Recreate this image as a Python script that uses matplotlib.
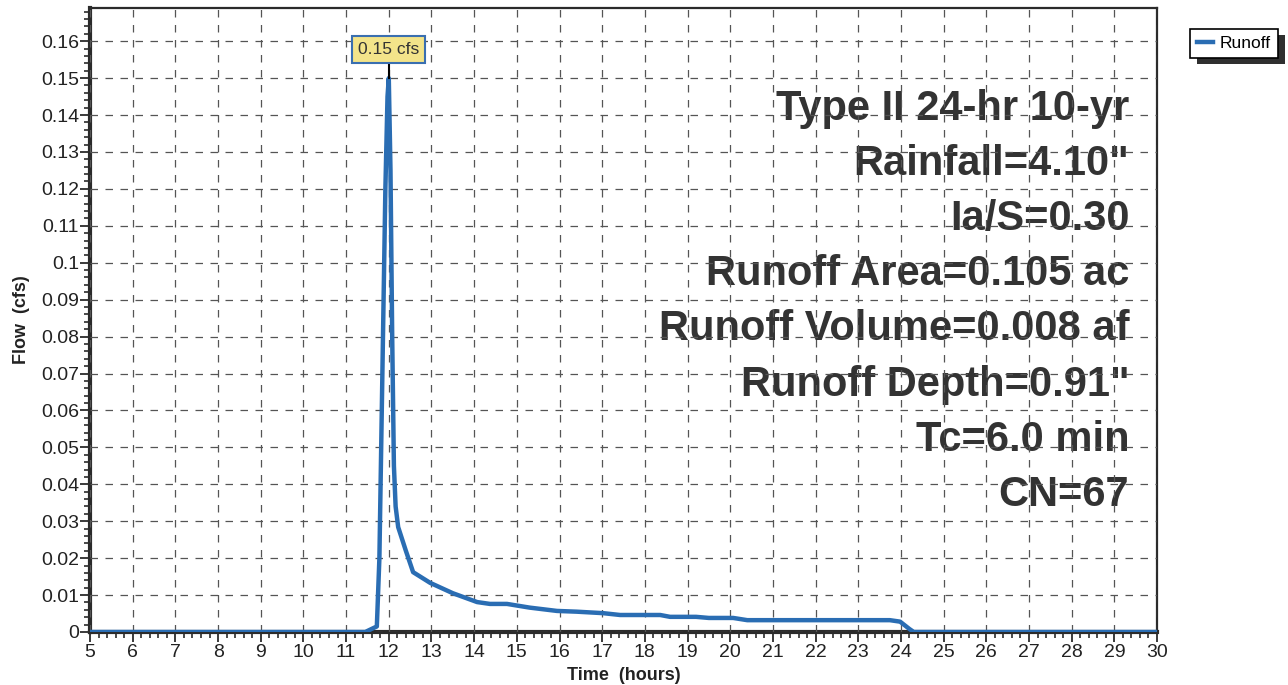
#!/usr/bin/env python3
"""Runoff hydrograph (Type II 24-hr 10-yr storm)."""

import matplotlib.pyplot as plt
from matplotlib.ticker import MultipleLocator
from matplotlib.patches import Rectangle

# Hydrograph ordinates: time (hours) and flow (cfs)
time_hr = [5.0, 11.0, 11.45, 11.72, 11.78, 11.85, 11.92, 11.97, 12.0,
           12.04, 12.08, 12.12, 12.16, 12.22, 12.4, 12.57, 12.97, 13.5,
           14.07, 14.37, 14.77, 15.3, 15.94, 16.4, 17.02, 17.42, 18.36,
           18.59, 19.2, 19.5, 20.07, 20.4, 23.74, 23.98, 24.2, 24.3, 30.0]
flow_cfs = [0.0, 0.0, 0.0, 0.0015, 0.02, 0.07, 0.12, 0.145, 0.15,
            0.125, 0.08, 0.045, 0.034, 0.0284, 0.022, 0.0162, 0.0133, 0.0105,
            0.0081, 0.0076, 0.0076, 0.0066, 0.0057, 0.0055, 0.0051, 0.0046, 0.0046,
            0.0041, 0.0041, 0.0038, 0.0038, 0.0032, 0.0032, 0.0028, 0.0008, 0.0, 0.0]

peak_time = 12.0
peak_flow = 0.15

storm_info = [
    "Type II 24-hr 10-yr",
    'Rainfall=4.10"',
    "Ia/S=0.30",
    "Runoff Area=0.105 ac",
    "Runoff Volume=0.008 af",
    'Runoff Depth=0.91"',
    "Tc=6.0 min",
    "CN=67",
]

LINE_BLUE = "#2a6db3"
DARK = "#2b2b2b"

plt.rcParams["font.family"] = ["Liberation Sans", "DejaVu Sans"]

fig = plt.figure(figsize=(12.88, 6.85), dpi=100)
ax = fig.add_axes([0.0699, 0.0774, 0.8284, 0.911])

ax.plot(time_hr, flow_cfs, color=LINE_BLUE, lw=3.2, solid_joinstyle="round",
        label="Runoff", zorder=4)

ax.set_xlim(5, 30)
ax.set_ylim(0, 0.169)
ax.xaxis.set_major_locator(MultipleLocator(1))
ax.xaxis.set_minor_locator(MultipleLocator(0.2))
ax.yaxis.set_minor_locator(MultipleLocator(0.002))
ax.set_yticks([i / 100 for i in range(17)])
ax.set_yticklabels(["0"] + [f"{i / 100:g}" for i in range(1, 17)])

ax.grid(True, which="major", ls=(0, (6, 6)), color="#555555", lw=0.9, zorder=2)
ax.set_axisbelow(False)

for s in ax.spines.values():
    s.set_linewidth(1.6)
    s.set_color(DARK)
ax.spines["bottom"].set_linewidth(3.0)
ax.spines["left"].set_linewidth(3.0)

ax.tick_params(which="major", direction="out", length=7, width=1.3, colors=DARK,
               labelsize=14, labelcolor="#222222")
ax.tick_params(which="minor", direction="out", length=4, width=1.2, colors=DARK)
ax.tick_params(axis="x", pad=2)
ax.tick_params(axis="y", pad=1)

ax.set_xlabel("Time  (hours)", fontsize=13, fontweight="bold", color="#222222",
              labelpad=4)
ax.set_ylabel("Flow  (cfs)", fontsize=13, fontweight="bold", color="#222222",
              labelpad=8)

# storm summary, drawn under the grid
for i, line in enumerate(storm_info):
    ax.text(0.974, 0.838 - i * 0.0883, line, transform=ax.transAxes,
            ha="right", va="center", fontsize=30, fontweight="bold",
            color="#333333", zorder=1)

# peak flow callout
ax.plot([peak_time, peak_time], [peak_flow, peak_flow + 0.004], color="black",
        lw=1.5, zorder=5)
ax.annotate(f"{peak_flow:.2f} cfs", xy=(peak_time, peak_flow + 0.004),
            xytext=(0, 10), textcoords="offset points", ha="center", va="center",
            fontsize=12.5, color="#333333", zorder=6,
            bbox=dict(boxstyle="square,pad=0.35", fc="#f3e48a", ec="#3a6fb0", lw=1.5))

# legend outside the plot with a drop shadow
leg = ax.legend(loc="upper left", bbox_to_anchor=(1.031, 0.967), frameon=True,
                fancybox=False, shadow=False, fontsize=12.5, handlelength=0.9,
                handletextpad=0.4, borderpad=0.4, borderaxespad=0)
leg.get_frame().set_edgecolor("black")
leg.get_frame().set_linewidth(1.2)
leg.get_frame().set_alpha(1.0)
fig.canvas.draw()
bb = leg.get_window_extent().transformed(fig.transFigure.inverted())
fig.patches.append(Rectangle((bb.x0 + 0.0055, bb.y0 - 0.01), bb.width, bb.height,
                             transform=fig.transFigure, fc="#2f2f2f", ec="none",
                             zorder=-1))

fig.savefig("out.png", dpi=100)
